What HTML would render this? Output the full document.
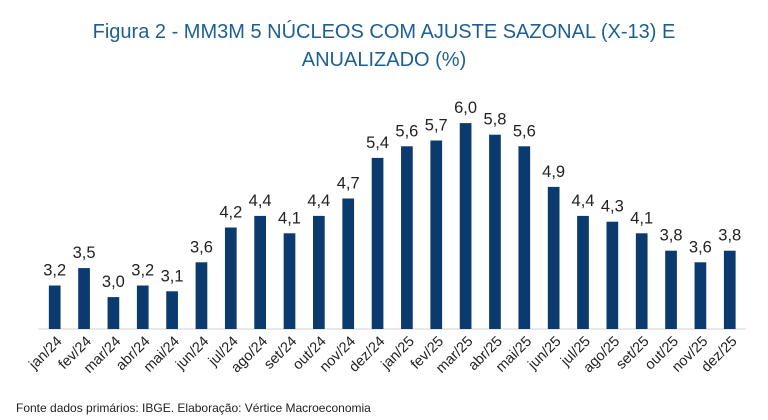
<!DOCTYPE html>
<html><head><meta charset="utf-8"><style>
body{margin:0;background:#fff;}
svg{display:block;font-family:"Liberation Sans",sans-serif;}
</style></head><body>
<svg id="c" width="768" height="420">
<text x="384" y="38" text-anchor="middle" font-size="20" fill="#1d5f94">Figura 2 - MM3M 5 NÚCLEOS COM AJUSTE SAZONAL (X-13) E</text>
<text x="384" y="66" text-anchor="middle" font-size="20" fill="#1d5f94">ANUALIZADO (%)</text>
<line x1="38" y1="329" x2="746" y2="329" stroke="#d9d9d9" stroke-width="1.2"/>
<text x="16" y="412" font-size="12" fill="#222">Fonte dados primários: IBGE. Elaboração: Vértice Macroeconomia</text>
<g id="bars"></g>
</svg>
<script>
const categories=["jan/24","fev/24","mar/24","abr/24","mai/24","jun/24","jul/24","ago/24","set/24","out/24","nov/24","dez/24","jan/25","fev/25","mar/25","abr/25","mai/25","jun/25","jul/25","ago/25","set/25","out/25","nov/25","dez/25"];
const values=[3.2,3.5,3.0,3.2,3.1,3.6,4.2,4.4,4.1,4.4,4.7,5.4,5.6,5.7,6.0,5.8,5.6,4.9,4.4,4.3,4.1,3.8,3.6,3.8];
const yMin=2.45, pxPerUnit=58, baseY=329, x0=54.7, step=29.35, bw=11.7;
function xScale(i){return x0+i*step;}
function yScale(v){return baseY-(v-yMin)*pxPerUnit;}
const g=document.getElementById('bars');
const NS="http://www.w3.org/2000/svg";
values.forEach((v,i)=>{
  const cx=xScale(i), top=yScale(v);
  const r=document.createElementNS(NS,'rect');
  r.setAttribute('x',cx-bw/2);r.setAttribute('y',top);r.setAttribute('width',bw);r.setAttribute('height',baseY-top);r.setAttribute('fill','#0b3a6e');
  
  
  g.appendChild(r);
  const t=document.createElementNS(NS,'text');
  t.setAttribute('x',cx);t.setAttribute('y',top-10);t.setAttribute('text-anchor','middle');t.setAttribute('font-size','16.5');t.setAttribute('fill','#222');
  t.textContent=v.toFixed(1).replace('.',',');
  
  
  g.appendChild(t);
  const l=document.createElementNS(NS,'text');
  l.setAttribute('transform','translate('+(cx+8)+',342) rotate(-45)');
  l.setAttribute('text-anchor','end');l.setAttribute('font-size','14.5');l.setAttribute('fill','#222');
  l.textContent=categories[i];
  
  
  g.appendChild(l);
});
</script>
</body></html>
